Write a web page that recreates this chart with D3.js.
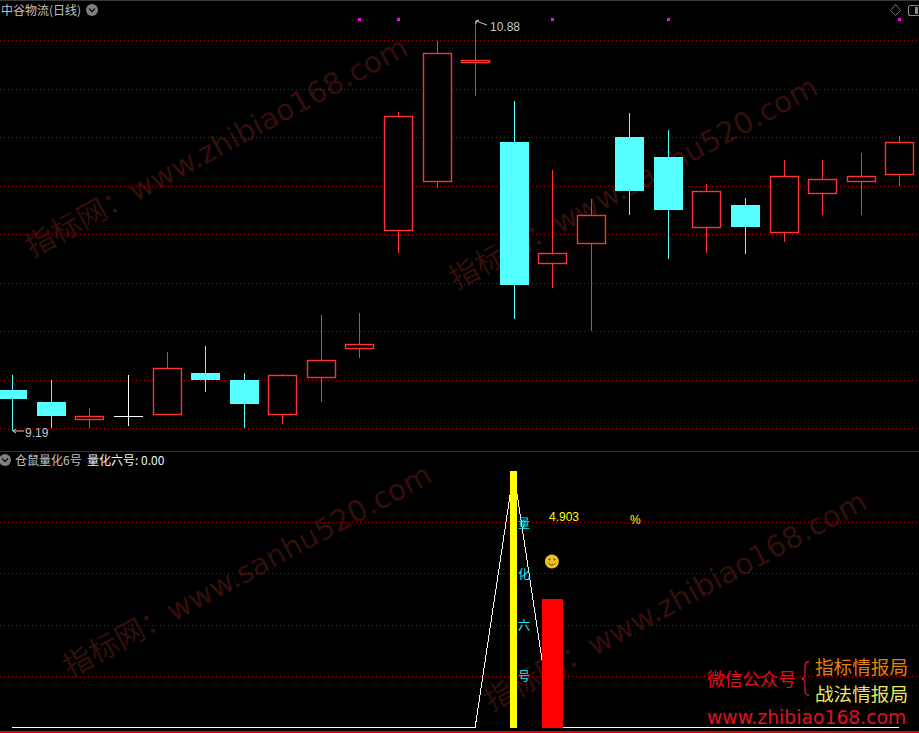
<!DOCTYPE html>
<html><head><meta charset="utf-8">
<script src="https://cdn.jsdelivr.net/npm/d3@7/dist/d3.min.js"></script>
<style>html,body{margin:0;padding:0;background:#000;overflow:hidden}svg{display:block}</style>
</head><body><svg id="c" width="919" height="733"></svg>
<script>
const opens  = [9.359,9.309,9.238,9.250,9.257,9.429,9.400,9.257,9.409,9.529,10.017,10.218,10.708,10.381,9.882,9.961,10.402,10.320,10.028,10.122,10.007,10.168,10.218,10.247];
const closes = [9.322,9.252,9.250,9.250,9.448,9.400,9.301,9.419,9.481,9.547,10.487,10.747,10.718,9.792,9.920,10.080,10.179,10.101,10.178,10.031,10.240,10.228,10.240,10.380];
const highs  = [9.421,9.400,9.285,9.421,9.515,9.540,9.429,9.425,9.668,9.676,10.505,10.798,10.882,10.551,10.266,10.146,10.501,10.431,10.208,10.151,10.307,10.307,10.336,10.406];
const lows   = [9.190,9.202,9.202,9.210,9.257,9.351,9.202,9.219,9.309,9.491,9.924,10.193,10.571,9.652,9.779,9.602,10.082,9.899,9.924,9.920,9.969,10.082,10.082,10.201];
const signalIdx = [9,10,14,17,23];
const priceGrid = [9.2,9.4,9.6,9.8,10.0,10.2,10.4,10.6,10.8];
const lowerGrid = [1,2,3,4];
const lineValues = [0,0,0,0,0,0,0,0,0,0,0,0,0,5,0,0,0,0,0,0,0,0,0,0];
const yellowBars = [{i:13,v:5}];
const redBars = [{i:14,v:2.5}];
const sideChars = [{c:"量",v:4},{c:"化",v:3},{c:"六",v:2},{c:"号",v:1}];
const title = "中谷物流(日线)";
const subTitle = "仓鼠量化6号";
const subValue = "量化六号: 0.00";
const watermarks = [
 {t:"指标网：www.zhibiao168.com",x:32,y:258},
 {t:"指标网：www.sanhu520.com",x:456,y:290},
 {t:"指标网：www.sanhu520.com",x:70,y:678},
 {t:"指标网：www.zhibiao168.com",x:491,y:712}
];

const RED="#ff3232", CYAN="#54ffff", GRID="#b00000";
const CJK="'Noto Sans CJK SC','Noto Sans',sans-serif", NUM="'Liberation Sans',Arial,sans-serif";
const svg=d3.select("#c");
svg.append("rect").attr("width",919).attr("height",733).attr("fill","#000");

const x=d3.scalePoint().domain(d3.range(opens.length)).range([12.3,899.3]);
const y=d3.scaleLinear().domain([9.2,10.8]).range([428.5,40.5]);
const y2=d3.scaleLinear().domain([0,5]).range([727.7,471.2]);

// watermarks
svg.append("g").selectAll("text").data(watermarks).join("text")
 .attr("transform",d=>`translate(${d.x},${d.y}) rotate(-28.4)`)
 .attr("font-family","'DejaVu Sans',"+CJK).attr("font-size",29.4).attr("fill","#340f0a").text(d=>d.t);

// frame lines
svg.append("rect").attr("x",0).attr("y",0).attr("width",919).attr("height",1).attr("fill","#3a3a3a");
svg.append("rect").attr("x",0).attr("y",451).attr("width",919).attr("height",1).attr("fill","#a80000");
svg.append("rect").attr("x",0).attr("y",731).attr("width",919).attr("height",2).attr("fill","#e00000");

// gridlines through axes
const gridAxis=(sel,scale,vals)=>{
 sel.call(d3.axisRight(scale).tickValues(vals).tickSize(919).tickFormat("").offset(0));
 sel.select(".domain").remove();
 sel.selectAll("line").attr("stroke",GRID).attr("stroke-dasharray","1 3").attr("shape-rendering","crispEdges");
};
svg.append("g").call(gridAxis,y,priceGrid);
svg.append("g").call(gridAxis,y2,lowerGrid);

// candles
const colorOf=i=>closes[i]>opens[i]?RED:closes[i]<opens[i]?CYAN:"#ffffff";
const cx=i=>Math.round(x(i))+0.5;
const snap=v=>Math.floor(v)+0.5;
const topY=i=>y(Math.max(opens[i],closes[i]));
const botY=i=>y(Math.min(opens[i],closes[i]));
const g=svg.append("g");
const idx=d3.range(opens.length);
g.selectAll("line.w").data(idx).join("line").attr("class","w")
 .attr("x1",cx).attr("x2",cx).attr("y1",i=>y(highs[i])).attr("y2",i=>y(lows[i]))
 .attr("stroke",colorOf).attr("shape-rendering","crispEdges");
// hollow up candles and the doji
g.selectAll("rect.b").data(idx.filter(i=>closes[i]>=opens[i])).join("rect").attr("class","b")
 .attr("x",i=>cx(i)-14).attr("width",28)
 .attr("y",i=>snap(topY(i)))
 .attr("height",i=>Math.max(0.01,snap(botY(i))-snap(topY(i))))
 .attr("fill","#000").attr("stroke",colorOf).attr("stroke-width",i=>closes[i]>opens[i]?1.4:1);
// solid down candles
g.selectAll("rect.d").data(idx.filter(i=>closes[i]<opens[i])).join("rect").attr("class","d")
 .attr("x",i=>cx(i)-14.5).attr("width",29)
 .attr("y",i=>Math.round(topY(i)))
 .attr("height",i=>Math.round(botY(i))-Math.round(topY(i)))
 .attr("fill",CYAN);

// signal squares
svg.append("g").selectAll("rect").data(signalIdx).join("rect")
 .attr("x",i=>Math.round(x(i))-1).attr("y",18).attr("width",3).attr("height",3).attr("fill","#ff00ff");

// lower pane line
svg.append("path").datum(lineValues)
 .attr("d",d3.line().x((d,i)=>x(i)).y(d=>y2(d)))
 .attr("fill","none").attr("stroke","#fff").attr("stroke-width",1).attr("shape-rendering","crispEdges");
svg.append("g").selectAll("rect").data(yellowBars).join("rect")
 .attr("x",d=>x(d.i)-3.3).attr("width",7).attr("y",d=>y2(d.v)).attr("height",d=>y2(0)-y2(d.v)+0.3).attr("fill","#ffff00").attr("shape-rendering","crispEdges");
svg.append("g").selectAll("rect").data(redBars).join("rect")
 .attr("x",d=>x(d.i)-10.3).attr("width",21).attr("y",d=>y2(d.v)).attr("height",d=>y2(0)-y2(d.v)+0.3).attr("fill","#ff0000").attr("shape-rendering","crispEdges");

// side chars
svg.append("g").selectAll("text").data(sideChars).join("text")
 .attr("x",524).attr("y",d=>y2(d.v)+5).attr("text-anchor","middle")
 .attr("font-family",CJK).attr("font-size",12).attr("fill","#10f0ff").text(d=>d.c);

const label=(tx,ty,t,col,size,fam,anchor)=>svg.append("text").attr("x",tx).attr("y",ty).attr("fill",col)
 .attr("font-size",size).attr("font-family",fam).attr("text-anchor",anchor||"start").text(t);

label(549,521,"4.903","#ffff00",12,NUM);
label(630,524,"%","#ffff00",12,NUM);

// smiley
const sm=svg.append("g").attr("transform",`translate(${x(14)-0.3},561.5)`);
sm.append("circle").attr("r",7).attr("fill","#eec020");
sm.append("circle").attr("cx",-2.5).attr("cy",-2).attr("r",0.9).attr("fill","#5a4000");
sm.append("circle").attr("cx",2.5).attr("cy",-2).attr("r",0.9).attr("fill","#5a4000");
sm.append("path").attr("d","M-3.5,1.5Q0,5.5 3.5,1.5").attr("fill","none").attr("stroke","#5a4000").attr("stroke-width",0.9);

// header
label(1,15,title,"#c0c0c0",12,CJK);
const chevron=(cxx,cyy)=>{
 svg.append("circle").attr("cx",cxx).attr("cy",cyy).attr("r",6).attr("fill","#808080");
 svg.append("path").attr("d",`M${cxx-3},${cyy-1.5}L${cxx},${cyy+1.5}L${cxx+3},${cyy-1.5}`).attr("fill","none").attr("stroke","#111").attr("stroke-width",1.3);
};
chevron(92,10); chevron(5,460);
label(15,465,subTitle,"#c0c0c0",12,CJK);
label(87,465,subValue,"#f0f0f0",12,CJK);

// top-right icons
svg.append("path").attr("d","M895.5,4.5L900.5,10.5L895.5,15.5L890.5,10.5Z").attr("fill","none").attr("stroke","#777");
svg.append("rect").attr("x",908.5).attr("y",5.5).attr("width",14).attr("height",10).attr("rx",2).attr("fill","none").attr("stroke","#888").attr("stroke-width",1.2);
svg.append("rect").attr("x",915).attr("y",7).attr("width",3).attr("height",7).attr("fill","#888");

// hi / lo marks
const mark="#c8c8c8";
svg.append("path").attr("d","M476,21L487,25M476,21L476,24M476,21L479,20").attr("fill","none").attr("stroke",mark);
label(490,31,"10.88",mark,12,NUM);
svg.append("path").attr("d","M13,431L24,431M13,431L16,429M13,431L16,433").attr("fill","none").attr("stroke",mark);
label(25,437,"9.19",mark,12,NUM);

// brand block
label(707,686,"微信公众号","#e01020",17.8,CJK);
label(815,674,"指标情报局","#e88000",18.6,CJK);
label(815,701,"战法情报局","#e8e860",18.6,CJK);
svg.append("path").attr("d","M809,661.5Q805,662 805,667L805,674Q805,678 801.5,678.5Q805,679 805,683L805,690Q805,695 809,695.5").attr("fill","none").attr("stroke","#e01020").attr("stroke-width",1.3);
label(707,724,"www.zhibiao168.com","#e01020",18.8,"'DejaVu Sans',sans-serif");
</script></body></html>
